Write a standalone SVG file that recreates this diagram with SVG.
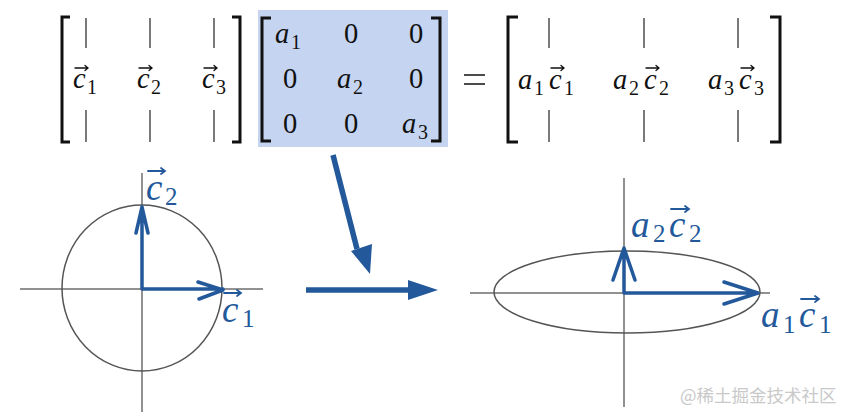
<svg xmlns="http://www.w3.org/2000/svg" width="844" height="413" viewBox="0 0 844 413">
<style>
.m{fill:#111}
.i{font-style:italic}
.mm{font-size:28.5px}
.ms{font-size:20px}
.bl{fill:#23599a}
.bm{font-size:37px}
.bs{font-size:25px}
.brk{fill:none;stroke:#111;stroke-width:3}
.bar{stroke:#333;stroke-width:1.3}
.vk{fill:none;stroke:#111;stroke-width:1.3;stroke-linecap:round}
.vb{fill:none;stroke:#23599a;stroke-width:1.8;stroke-linecap:round}
.ax{stroke:#6e6e6e;stroke-width:1.5}
.crv{fill:none;stroke:#555;stroke-width:1.5}
.vec{fill:none;stroke:#23599a;stroke-width:3.5;stroke-linecap:round;stroke-linejoin:round}
.big{fill:#23599a}
</style>
<rect x="258" y="10" width="190" height="137" fill="#c5d5f1"/>
<g font-family="Liberation Serif, Tinos, Noto Serif, DejaVu Serif, serif">
<g id="matrix-c">
<path class="brk" d="M70 17H62V142H70"/><path class="brk" d="M232 17H240V142H232"/>
<path class="bar" d="M86 18V48M150 18V48M214 18V48M86 110V142M150 110V142M214 110V142"/>
<text class="m i mm" x="73" y="88">c</text><text class="m ms" x="87" y="94">1</text>
<text class="m i mm" x="137" y="88">c</text><text class="m ms" x="151" y="94">2</text>
<text class="m i mm" x="202" y="88">c</text><text class="m ms" x="216" y="94">3</text>
<path class="vk" d="M75 68H88M85 65.5L88 68L85 70.5M139 68H152M149 65.5L152 68L149 70.5M204 68H217M214 65.5L217 68L214 70.5"/>
</g>
<g id="matrix-a">
<path class="brk" d="M271 18H262V141H271"/><path class="brk" d="M431 18H440V141H431"/>
<text class="m i mm" x="275" y="43">a</text><text class="m ms" x="291" y="49">1</text>
<text class="m mm" x="351" y="43" text-anchor="middle">0</text>
<text class="m mm" x="416" y="43" text-anchor="middle">0</text>
<text class="m mm" x="290" y="88" text-anchor="middle">0</text>
<text class="m i mm" x="337" y="88">a</text><text class="m ms" x="353" y="94">2</text>
<text class="m mm" x="416" y="88" text-anchor="middle">0</text>
<text class="m mm" x="290" y="133" text-anchor="middle">0</text>
<text class="m mm" x="351" y="133" text-anchor="middle">0</text>
<text class="m i mm" x="402" y="133">a</text><text class="m ms" x="418" y="139">3</text>
</g>
<g id="equals"><path d="M464 75H485M464 84H485" stroke="#111" stroke-width="1.5"/></g>
<g id="matrix-result">
<path class="brk" d="M518 17H508V142H518"/><path class="brk" d="M770 17H780V142H770"/>
<path class="bar" d="M549 18V48M644 18V48M738 18V48M549 110V142M644 110V142M738 110V142"/>
<text class="m i mm" x="518" y="89">a</text><text class="m ms" x="534" y="95">1</text>
<text class="m i mm" x="549" y="89">c</text><text class="m ms" x="564" y="95">1</text>
<text class="m i mm" x="613" y="89">a</text><text class="m ms" x="629" y="95">2</text>
<text class="m i mm" x="644" y="89">c</text><text class="m ms" x="659" y="95">2</text>
<text class="m i mm" x="708" y="89">a</text><text class="m ms" x="724" y="95">3</text>
<text class="m i mm" x="739" y="89">c</text><text class="m ms" x="754" y="95">3</text>
<path class="vk" d="M551 68H564M561 65.5L564 68L561 70.5M646 68H659M656 65.5L659 68L656 70.5M741 68H754M751 65.5L754 68L751 70.5"/>
</g>
<g id="circle-plot">
<path class="ax" d="M20 289H263M142 173V412"/>
<ellipse class="crv" cx="142" cy="288" rx="80" ry="83"/>
<path class="vec" d="M142 289V207M136 233L142 207L148 233M142 289H223M198 282L223 290L199 299"/>
<text class="bl i bm" x="146" y="200">c</text><text class="bl bs" x="165" y="205">2</text>
<path class="vb" d="M148 171H165M161 168L165 171L161 174"/>
<text class="bl i bm" x="222" y="322">c</text><text class="bl bs" x="242" y="327">1</text>
<path class="vb" d="M224 293H241M237 290L241 293L237 296"/>
</g>
<g id="ellipse-plot">
<path class="ax" d="M470 293H770M624 178V407"/>
<ellipse class="crv" cx="627" cy="292" rx="133" ry="41"/>
<path class="vec" d="M624 293V248M613 280L624 248L635 280M624 293H758M724 282L758 293L724 304"/>
<text class="bl i bm" x="631" y="237">a</text><text class="bl bs" x="653" y="242">2</text>
<text class="bl i bm" x="669" y="237">c</text><text class="bl bs" x="689" y="242">2</text>
<path class="vb" d="M671 209H689M685 206L689 209L685 212"/>
<text class="bl i bm" x="761" y="327">a</text><text class="bl bs" x="783" y="333">1</text>
<text class="bl i bm" x="799" y="327">c</text><text class="bl bs" x="819" y="333">1</text>
<path class="vb" d="M801 299H819M815 296L819 299L815 302"/>
</g>
</g>
<g id="connectors">
<path d="M333 155L357 249" stroke="#23599a" stroke-width="5.5"/>
<path class="big" d="M351 251L372 244L370 274Z"/>
<path d="M306 290H410" stroke="#23599a" stroke-width="5.5"/>
<path class="big" d="M408 280L438 290L408 300Z"/>
</g>
<text x="680" y="402" font-family="Noto Sans CJK SC, Noto Sans, sans-serif" font-size="17.5" fill="#c9c9c9">@稀土掘金技术社区</text>
</svg>
